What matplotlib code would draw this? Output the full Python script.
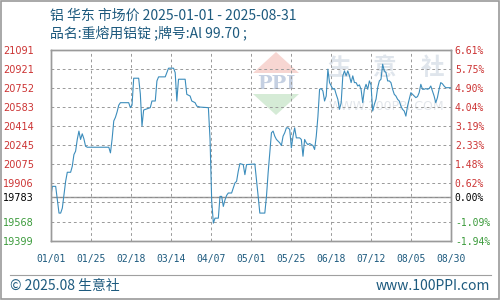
import matplotlib

matplotlib.use("Agg")
import matplotlib.dates as mdates
import matplotlib.pyplot as plt
import numpy as np
import pandas as pd
from matplotlib.patches import Polygon, Rectangle

TITLE = "铝 华东 市场价 2025-01-01 - 2025-08-31"
SUBTITLE = "品名:重熔用铝锭 ;牌号:Al 99.70 ;"
BASE = 19783
X_START, X_END = "2025-01-01", "2025-08-30"
X_LABELS = ["01/01", "01/25", "02/18", "03/14", "04/07", "05/01",
            "05/25", "06/18", "07/12", "08/05", "08/30"]
GRID_Y = [19399, 19568, 19737, 19906, 20075, 20245, 20414, 20583, 20752, 20921, 21091]
LEFT_TICKS = [19399, 19568, 19783, 19906, 20075, 20245, 20414, 20583, 20752, 20921, 21091]
RIGHT_LABELS = ["-1.94%", "-1.09%", "0.00%", "0.62%", "1.48%", "2.33%",
                "3.19%", "4.04%", "4.90%", "5.75%", "6.61%"]

DATES = [
    "01-01", "01-02", "01-04", "01-06", "01-07", "01-08", "01-10", "01-11", "01-13", "01-14",
    "01-15", "01-16", "01-17", "01-18", "01-19", "01-20", "01-21", "01-22", "01-23", "02-05",
    "02-06", "02-07", "02-08", "02-09", "02-10", "02-11", "02-12", "02-17", "02-18", "02-19",
    "02-20", "02-23", "02-24", "02-25", "02-26", "03-02", "03-03", "03-05", "03-06", "03-07",
    "03-11", "03-12", "03-13", "03-16", "03-17", "03-18", "03-19", "03-23", "03-24", "03-26",
    "03-27", "03-29", "03-30", "04-01", "04-06", "04-07", "04-08", "04-09", "04-10", "04-12",
    "04-13", "04-14", "04-15", "04-16", "04-17", "04-18", "04-20", "04-21", "04-22", "04-23",
    "04-24", "04-25", "04-27", "04-28", "04-29", "05-04", "05-05", "05-06", "05-07", "05-10",
    "05-11", "05-12", "05-13", "05-14", "05-15", "05-16", "05-17", "05-19", "05-20", "05-21",
    "05-22", "05-23", "05-24", "05-25", "05-26", "05-27", "05-28", "05-29", "05-31", "06-01",
    "06-02", "06-03", "06-04", "06-05", "06-06", "06-08", "06-09", "06-10", "06-11", "06-12",
    "06-13", "06-14", "06-15", "06-16", "06-17", "06-18", "06-19", "06-20", "06-21", "06-22",
    "06-23", "06-24", "06-25", "06-26", "06-27", "06-28", "06-29", "06-30", "07-01", "07-02",
    "07-03", "07-04", "07-05", "07-06", "07-07", "07-08", "07-09", "07-10", "07-11", "07-12",
    "07-13", "07-14", "07-15", "07-16", "07-17", "07-18", "07-19", "07-20", "07-21", "07-22",
    "07-23", "07-24", "07-25", "07-26", "07-27", "07-28", "07-29", "07-30", "07-31", "08-01",
    "08-02", "08-03", "08-04", "08-05", "08-06", "08-07", "08-08", "08-09", "08-10", "08-11",
    "08-12", "08-13", "08-14", "08-15", "08-16", "08-17", "08-18", "08-19", "08-20", "08-21",
    "08-22", "08-23", "08-24", "08-25", "08-26", "08-27", "08-30",
]
PRICES = [
    19783, 19880, 19880, 19643, 19643, 19687, 19925, 20005, 20005, 20058,
    20162, 20192, 20296, 20370, 20296, 20346, 20302, 20236, 20227, 20227,
    20177, 20300, 20460, 20492, 20540, 20600, 20622, 20622, 20578, 20600,
    20839, 20839, 20700, 20414, 20557, 20578, 20637, 20637, 20815, 20851,
    20851, 20889, 20928, 20928, 20889, 20637, 20830, 20830, 20696, 20681,
    20637, 20622, 20592, 20583, 20578, 20300, 19750, 19554, 19598, 19598,
    19791, 19791, 19702, 19760, 19800, 19821, 19821, 19865, 19910, 19925,
    20014, 20082, 20073, 19984, 20073, 20078, 19939, 19791, 19643, 19643,
    19791, 20000, 20177, 20355, 20370, 20325, 20296, 20266, 20242, 20325,
    20355, 20399, 20399, 20385, 20221, 20325, 20399, 20310, 20310, 20296,
    20147, 20296, 20266, 20250, 20260, 20242, 20207, 20325, 20500, 20741,
    20747, 20726, 20637, 20681, 20919, 20800, 20770, 20741, 20747, 20696,
    20652, 20563, 20620, 20860, 20904, 20860, 20904, 20860, 20800, 20860,
    20800, 20800, 20770, 20780, 20740, 20622, 20740, 20785, 20741, 20815,
    20780, 20548, 20607, 20652, 20755, 20815, 20830, 20963, 20904, 20889,
    20815, 20815, 20800, 20741, 20696, 20681, 20652, 20637, 20592, 20563,
    20548, 20503, 20592, 20652, 20711, 20696, 20681, 20667, 20676, 20711,
    20785, 20741, 20741, 20747, 20741, 20747, 20770, 20726, 20681, 20622,
    20667, 20741, 20800, 20790, 20770, 20755, 20755,
]

INK = "#1d5a7e"
RED = "#cc3333"
GREEN = "#3a9a3a"
LINE = "#3c8dbc"
GRID = "#9c9c9c"


def fxy(x, y):
    # pixel position on the 500x300 canvas -> figure fraction
    return x / 500.0, 1.0 - y / 300.0


def label_color(value):
    if value > BASE:
        return RED
    if value < BASE:
        return GREEN
    return "black"


dates = pd.to_datetime(["2025-" + d for d in DATES])
fig = plt.figure(figsize=(5, 3), dpi=100)
fig.patch.set_facecolor("white")
fig.add_artist(Rectangle((0.001, 0.002), 0.997, 0.995, transform=fig.transFigure,
                         fill=False, edgecolor="#9a9a9a", lw=1.2))

ax = fig.add_axes([0.1014, 0.198, 0.8, 0.636])
ax.set_axisbelow(False)
x0 = mdates.date2num(pd.Timestamp(X_START))
x1 = mdates.date2num(pd.Timestamp(X_END))
ax.set_xlim(x0, x1)
ax.set_ylim(GRID_Y[0], GRID_Y[-1])

x_ticks = np.linspace(x0, x1, len(X_LABELS))
ax.set_xticks(x_ticks, X_LABELS)
ax.set_yticks(LEFT_TICKS, [str(v) for v in LEFT_TICKS])
ax.set_yticks(GRID_Y, minor=True)
grid_style = dict(color=GRID, lw=0.72, ls=(0, (2.8, 2.8)))
ax.grid(True, which="both", axis="y", **grid_style)
ax.grid(True, which="major", axis="x", **grid_style)
ax.axhline(BASE, color="#8c8c8c", lw=1.0, zorder=2.5)
ax.plot(dates, PRICES, color=LINE, lw=0.8, zorder=3)

ax.tick_params(axis="x", length=0, pad=10, labelsize=7, labelcolor=INK)
ax.tick_params(axis="y", which="both", length=0, pad=12, labelsize=7)
for label in ax.get_xticklabels():
    label.set_fontfamily("DejaVu Sans Mono")
for label, value in zip(ax.get_yticklabels(), LEFT_TICKS):
    label.set_color(label_color(value))

right = ax.twinx()
right.patch.set_visible(False)
right.set_ylim(ax.get_ylim())
right.set_yticks(LEFT_TICKS, RIGHT_LABELS)
right.tick_params(axis="y", length=0, pad=3, labelsize=7)
for label, value in zip(right.get_yticklabels(), LEFT_TICKS):
    label.set_color(label_color(value))
    label.set_fontfamily("DejaVu Sans Mono")

for axis in (ax, right):
    for spine in axis.spines.values():
        spine.set_color("#9a9a9a")
        spine.set_linewidth(1.0)

# watermark: diamond logo, big brand characters and site address
top = Polygon([fxy(253, 73), fxy(276, 52), fxy(299, 73)], closed=True,
              transform=fig.transFigure, facecolor="#f7d6d2", edgecolor="none", zorder=0.5)
bottom = Polygon([fxy(253, 94), fxy(276, 115), fxy(299, 94)], closed=True,
                 transform=fig.transFigure, facecolor="#d5ebd6", edgecolor="none", zorder=0.5)
ax.add_artist(top)
ax.add_artist(bottom)
ax.text(*fxy(276, 84), "PPI", transform=fig.transFigure, ha="center", va="center",
        fontsize=14, weight="bold", color="#c5d0e2", zorder=0.6, family="DejaVu Serif")
for cx, char in zip((339, 384, 432), "生意社"):
    ax.text(*fxy(cx, 68), char, transform=fig.transFigure, ha="center", va="center",
            fontsize=17, weight="bold", color="#dfe5ec", zorder=0.6, family="Noto Sans CJK SC")
ax.text(*fxy(386, 107), "WWW.100PPI.COM", transform=fig.transFigure, ha="center", va="center",
        fontsize=9, color="#e2e6eb", zorder=0.6)

fig.text(*fxy(50, 16), TITLE, fontsize=10, color=INK, va="center", family="Noto Sans CJK SC")
fig.text(*fxy(50, 33), SUBTITLE, fontsize=10, color=INK, va="center", family="Noto Sans CJK SC")

fig.add_artist(plt.Line2D([0.02, 0.982], [1 - 275 / 300] * 2, transform=fig.transFigure,
                          color="#a0a0a0", lw=0.8))
fig.text(*fxy(10, 286), "© 2025.08 生意社", fontsize=10, color=INK, va="center",
         family=["Noto Sans CJK SC", "DejaVu Sans"])
fig.text(*fxy(490, 286), "www.100PPI.com", fontsize=10, color=INK, va="center", ha="right",
         family="Noto Sans CJK SC")

fig.savefig("out.png", dpi=100, facecolor="white")
